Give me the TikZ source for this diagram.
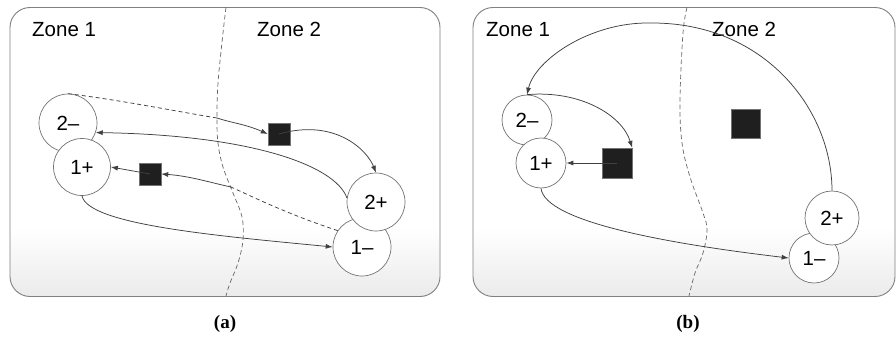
\documentclass[tikz,border=0pt]{standalone}
\usepackage{fontspec}
\setmainfont{Liberation Sans}
\newfontfamily\capfont{Liberation Serif}
\usetikzlibrary{arrows.meta}
\newcommand\zonefont{\fontsize{20.5}{24}\selectfont}
\newcommand\subcapfont{\capfont\bfseries\fontsize{19}{22}\selectfont}

\begin{document}
\begin{tikzpicture}[x=1pt,y=-1pt,
  panel/.style={draw=black!50, line width=0.9pt, rounded corners=20pt},
  state/.style={circle, draw=black!55, line width=0.7pt, fill=white, inner sep=0pt, font=\zonefont},
  blk/.style={rectangle, fill=black!88, draw=black!55, line width=0.4pt, inner sep=0pt},
  link/.style={draw=black!75, line width=0.75pt},
  arr/.style={link, -{Latex[length=7pt,width=5pt]}},
  hidden/.style={link, dash pattern=on 4pt off 3pt},
  border/.style={draw=black!60, line width=0.7pt, dash pattern=on 4.5pt off 3pt},
  zone/.style={font=\zonefont, anchor=base west, inner sep=0pt},
  subcap/.style={font=\subcapfont, anchor=base, inner sep=0pt},
]
\useasboundingbox (0,0) rectangle (896,337);

% ---------- panel backgrounds ----------
\foreach \xa/\xb in {10/440, 473/895}{
  \begin{scope}
    \clip[rounded corners=20pt] (\xa,7.5) rectangle (\xb,296.5);
    \fill[white] (\xa,7.5) rectangle (\xb,296.5);
    \shade[top color=white, bottom color=black!8] (\xa,228) rectangle (\xb,297);
  \end{scope}
  \draw[panel] (\xa,7.5) rectangle (\xb,296.5);
}

% ---------- panel (a) ----------
\draw[border] plot[smooth, tension=0.6] coordinates {(226,7.5) (223,33) (218,83) (217,117) (218,143) (223,167) (233,193) (242,217) (243,240) (238,263) (230,283) (226,296)};
\node[zone] (az1) at (32,37) {Zone 1};
\node[zone] (az2) at (257,37) {Zone 2};

\node[state, minimum size=58pt] (a2m) at (68,123) {2–};
\node[state, minimum size=57pt] (a1p) at (82,167) {1+};
\node[state, minimum size=58pt] (a1m) at (362,247) {1–};
\node[state, minimum size=58pt] (a2p) at (376,202) {2+};
\node[blk, minimum size=22pt] (as1) at (279,134) {};
\node[blk, minimum size=22pt] (as2) at (150,174) {};

\coordinate (ax1) at (217,118);
\coordinate (ax2) at (231,187);
\draw[hidden] (a2m.north) .. controls (120,100) and (180,112) .. (ax1);
\draw[arr] (ax1) .. controls (232,123) and (245,124) .. (as1.west);
\draw[arr] (as1.center) .. controls (335,118) and (367,150) .. (a2p.north);
\draw[arr] (a2p.172) .. controls (335,165) and (250,135) .. (a2m.-19);
\draw[hidden] (a1m.146) .. controls (290,215) and (255,198) .. (ax2);
\draw[arr] (ax2) .. controls (212,183) and (190,176) .. (as2.east);
\draw[arr] (as2.center) -- (a1p.east);
\draw[arr] (a1p.south) .. controls (88,225) and (220,236) .. (a1m.west);

\node[subcap] (capa) at (225,328) {(a)};

% ---------- panel (b) ----------
\draw[border] plot[smooth, tension=0.6] coordinates {(687,7.5) (683,33) (680,100) (682,143) (690,177) (703,213) (707,230) (703,253) (695,273) (689,296)};
\node[zone] (bz1) at (486,37) {Zone 1};
\node[zone] (bz2) at (712,37) {Zone 2};

\node[state, minimum size=50pt] (b2m) at (527,120) {2–};
\node[state, minimum size=50pt] (b1p) at (541,163) {1+};
\node[state, minimum size=50pt] (b1m) at (814,258) {1–};
\node[state, minimum size=54pt] (b2p) at (832,218) {2+};
\node[blk, minimum size=30pt] (bs1) at (617,163) {};
\node[blk, minimum size=29pt] (bs2) at (746,124) {};

\coordinate (btop) at (650,23);
\draw[link] (b2p.north) .. controls (832,110) and (765,22) .. (btop);
\draw[arr] (btop) .. controls (590,22) and (535,60) .. (b2m.north);
\draw[arr] (b2m.north) .. controls (580,90) and (622,115) .. (bs1.north east);
\draw[arr] (bs1.center) -- (b1p.east);
\draw[arr] (b1p.south) .. controls (545,222) and (670,244) .. (b1m.west);

\node[subcap] (capb) at (688,328) {(b)};
\end{tikzpicture}
\end{document}
